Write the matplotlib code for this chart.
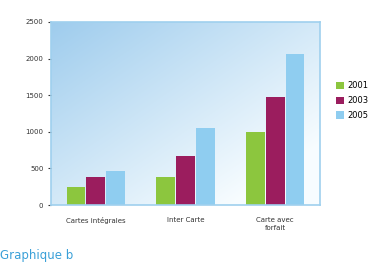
import numpy as np
import matplotlib.pyplot as plt

categories = ['Cartes intégrales', 'Inter Carte', 'Carte avec\nforfait']
years = ['2001', '2003', '2005']
v2001 = [240, 380, 1000]
v2003 = [380, 670, 1480]
v2005 = [465, 1050, 2060]
colors = ['#8cc63e', '#9b1d5e', '#8fcdf0']

fig = plt.figure(figsize=(3.83, 2.64), dpi=100)
ax = fig.add_axes([51/383, 1-205/264, 269/383, 183/264])

# gradient background, darker at top left
grad = np.linspace(0, 1, 256)
gx, gy = np.meshgrid(grad, grad)
g = np.clip(0.6*gx + 0.6*gy, 0, 1)
c0 = np.array([0.62, 0.80, 0.93])
c1 = np.array([0.97, 0.99, 1.0])
img = c0[None, None, :]*(1-g[..., None]) + c1[None, None, :]*g[..., None]
ax.imshow(img, extent=[-0.5, 2.5, 0, 2500], origin='upper', aspect='auto', zorder=0)

x = np.arange(len(categories))
w = 0.22
for i, (vals, yr) in enumerate(zip([v2001, v2003, v2005], years)):
    ax.bar(x + (i-1)*w, vals, w*0.95, color=colors[i], label=yr, zorder=2)

ax.set_xlim(-0.5, 2.5)
ax.set_ylim(0, 2500)
ax.set_yticks([0, 500, 1000, 1500, 2000, 2500])
ax.set_xticks(x)
ax.set_xticklabels(categories, fontsize=5, color='#333333')
ax.tick_params(axis='y', labelsize=5, colors='#333333', length=2)
ax.tick_params(axis='x', length=0, pad=9)
for s in ax.spines.values():
    s.set_color('#9fd0ee')
    s.set_linewidth(1.2)

leg = ax.legend(loc='center left', bbox_to_anchor=(1.03, 0.57), fontsize=6,
                frameon=False, handlelength=1.0, handleheight=1.0,
                handletextpad=0.4, labelspacing=0.7)

fig.text(0.0, 0.008, 'Graphique b', fontsize=8.5, color='#3aa0d8', va='bottom')

fig.savefig('out.png', dpi=100)
